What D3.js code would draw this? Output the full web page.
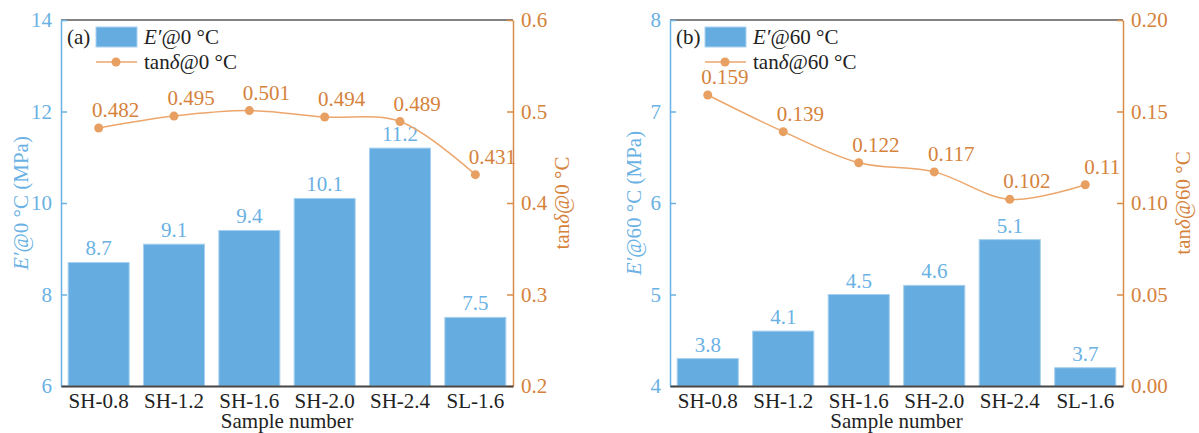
<!DOCTYPE html>
<html>
<head>
    <meta charset="utf-8" />
    <script src="https://d3js.org/d3.v7.min.js"></script>
    <style>
        body { margin: 0; background: #fff; }
        svg text { font-family: "Liberation Serif", Tinos, "Times New Roman", Times, "DejaVu Serif", serif !important; }
    </style>
</head>
<body>
<svg id="chart" width="1199" height="433"></svg>
<script>
    // Data
    const samples = ["SH-0.8", "SH-1.2", "SH-1.6", "SH-2.0", "SH-2.4", "SL-1.6"];

    // panel (a) at 0 °C
    const modulus0 = [8.7, 9.1, 9.4, 10.1, 11.2, 7.5];
    const modulus0Labels = ["8.7", "9.1", "9.4", "10.1", "11.2", "7.5"];
    const tan0 = [0.482, 0.495, 0.501, 0.494, 0.489, 0.431];
    const tan0Labels = ["0.482", "0.495", "0.501", "0.494", "0.489", "0.431"];

    // panel (b) at 60 °C (bars are drawn higher than their printed labels in the original)
    const modulus60 = [4.3, 4.6, 5.0, 5.1, 5.6, 4.2];
    const modulus60Labels = ["3.8", "4.1", "4.5", "4.6", "5.1", "3.7"];
    const tan60 = [0.159, 0.139, 0.122, 0.117, 0.102, 0.110];
    const tan60Labels = ["0.159", "0.139", "0.122", "0.117", "0.102", "0.11"];

    const leftTicks0 = [6, 8, 10, 12, 14];
    const rightTicks0 = [0.2, 0.3, 0.4, 0.5, 0.6];
    const leftTicks60 = [4, 5, 6, 7, 8];
    const rightTicks60 = [0.00, 0.05, 0.10, 0.15, 0.20];

    const blue = "#65ade0";
    const blueText = "#6ab1e4";
    const orangeAxis = "#d98b48";
    const orangeText = "#d5823b";
    const orangeLine = "#eca66b";
    const fontSize = "21px";

    const svg = d3.select("#chart");

    function drawPanel(p) {
        const g = svg.append("g");

        const x = d3.scaleBand()
            .domain(samples)
            .range([p.x0, p.x1])
            .paddingInner(0.19)
            .paddingOuter(0.095);

        const yL = d3.scaleLinear().domain(p.leftDomain).range([p.bottom, p.top]);
        const yR = d3.scaleLinear().domain(p.rightDomain).range([p.bottom, p.top]);

        // bars
        g.selectAll(".bar")
            .data(p.bars)
            .enter().append("rect")
            .attr("x", (d, i) => x(samples[i]))
            .attr("y", d => yL(d))
            .attr("width", x.bandwidth())
            .attr("height", d => yL(p.leftDomain[0]) - yL(d))
            .attr("fill", blue)
            .attr("stroke", "#a9d1ef")
            .attr("stroke-width", 1);

        // bar labels
        g.selectAll(".barLabel")
            .data(p.bars)
            .enter().append("text")
            .attr("x", (d, i) => x(samples[i]) + x.bandwidth() / 2)
            .attr("y", d => yL(d) - 7)
            .attr("text-anchor", "middle")
            .attr("fill", blueText)
            .style("font-size", fontSize)
            .text((d, i) => p.barLabels[i]);

        // top frame line
        g.append("line")
            .attr("x1", p.x0).attr("x2", p.x1)
            .attr("y1", p.top).attr("y2", p.top)
            .attr("stroke", "#5a5a5a").attr("stroke-width", 1.5);

        // left axis
        const axL = g.append("g")
            .attr("transform", `translate(${p.x0},0)`)
            .call(d3.axisLeft(yL).tickValues(p.leftTicks).tickFormat(d3.format("d"))
                .tickSizeInner(-6).tickSizeOuter(0).tickPadding(9));
        axL.select(".domain").attr("stroke", blueText).attr("stroke-width", 1.5);
        axL.selectAll(".tick line").attr("stroke", blueText).attr("stroke-width", 1.5);
        axL.selectAll(".tick text").attr("fill", blueText).style("font-size", fontSize);

        // right axis
        const axR = g.append("g")
            .attr("transform", `translate(${p.x1},0)`)
            .call(d3.axisRight(yR).tickValues(p.rightTicks).tickFormat(d3.format(p.rightFormat))
                .tickSizeInner(-6).tickSizeOuter(0).tickPadding(8));
        axR.select(".domain").attr("stroke", orangeAxis).attr("stroke-width", 1.5);
        axR.selectAll(".tick line").attr("stroke", orangeAxis).attr("stroke-width", 1.5);
        axR.selectAll(".tick text").attr("fill", orangeText).style("font-size", fontSize);

        // bottom axis
        const axB = g.append("g")
            .attr("transform", `translate(0,${p.bottom})`)
            .call(d3.axisBottom(x).tickSize(0).tickPadding(7));
        axB.select(".domain").attr("stroke", "#444").attr("stroke-width", 2);
        axB.selectAll(".tick text").attr("fill", "#222").style("font-size", fontSize);

        // loss factor line
        const line = d3.line()
            .x((d, i) => x(samples[i]) + x.bandwidth() / 2)
            .y(d => yR(d))
            .curve(d3.curveCatmullRom);

        g.append("path")
            .datum(p.tan)
            .attr("fill", "none")
            .attr("stroke", orangeLine)
            .attr("stroke-width", 1.5)
            .attr("d", line);

        g.selectAll(".dot")
            .data(p.tan)
            .enter().append("circle")
            .attr("cx", (d, i) => x(samples[i]) + x.bandwidth() / 2)
            .attr("cy", d => yR(d))
            .attr("r", 4.5)
            .attr("fill", "#e8a062");

        g.selectAll(".tanLabel")
            .data(p.tan)
            .enter().append("text")
            .attr("x", (d, i) => x(samples[i]) + x.bandwidth() / 2 + 17)
            .attr("y", d => yR(d) - 11)
            .attr("text-anchor", "middle")
            .attr("fill", orangeText)
            .style("font-size", fontSize)
            .text((d, i) => p.tanLabels[i]);

        // x axis title
        g.append("text")
            .attr("x", (p.x0 + p.x1) / 2)
            .attr("y", 428)
            .attr("text-anchor", "middle")
            .attr("fill", "#222")
            .style("font-size", fontSize)
            .text("Sample number");

        // left axis title
        const tl = g.append("text")
            .attr("transform", `translate(${p.x0 - p.leftTitleGap},${(p.top + p.bottom) / 2}) rotate(-90)`)
            .attr("text-anchor", "middle")
            .attr("fill", blueText)
            .style("font-size", fontSize);
        tl.append("tspan").style("font-style", "italic").text("E′");
        tl.append("tspan").text(`@${p.temp} °C (MPa)`);

        // right axis title
        const tr = g.append("text")
            .attr("transform", `translate(${p.x1 + p.rightTitleGap},${(p.top + p.bottom) / 2}) rotate(-90)`)
            .attr("text-anchor", "middle")
            .attr("fill", orangeText)
            .style("font-size", fontSize);
        tr.append("tspan").text("tan");
        tr.append("tspan").style("font-style", "italic").text("δ");
        tr.append("tspan").text(`@${p.temp} °C`);

        // legend
        const lx = p.x0 + 35;
        g.append("text")
            .attr("x", p.x0 + 6).attr("y", 44)
            .attr("fill", "#222").style("font-size", fontSize)
            .text(p.tag);
        g.append("rect")
            .attr("x", lx).attr("y", 27)
            .attr("width", 41).attr("height", 20)
            .attr("fill", blue).attr("stroke", "#a9d1ef");
        const l1 = g.append("text")
            .attr("x", lx + 48).attr("y", 44)
            .attr("fill", "#222").style("font-size", fontSize);
        l1.append("tspan").style("font-style", "italic").text("E′");
        l1.append("tspan").text(`@${p.temp} °C`);

        g.append("line")
            .attr("x1", lx).attr("x2", lx + 41)
            .attr("y1", 62).attr("y2", 62)
            .attr("stroke", orangeLine).attr("stroke-width", 1.5);
        g.append("circle")
            .attr("cx", lx + 20).attr("cy", 62).attr("r", 4.5)
            .attr("fill", "#e8a062");
        const l2 = g.append("text")
            .attr("x", lx + 48).attr("y", 69)
            .attr("fill", "#222").style("font-size", fontSize);
        l2.append("tspan").text("tan");
        l2.append("tspan").style("font-style", "italic").text("δ");
        l2.append("tspan").text(`@${p.temp} °C`);
    }

    drawPanel({
        tag: "(a)", temp: "0",
        x0: 61, x1: 513, top: 20, bottom: 386,
        leftTitleGap: 33, rightTitleGap: 56,
        bars: modulus0, barLabels: modulus0Labels,
        tan: tan0, tanLabels: tan0Labels,
        leftDomain: [6, 14], rightDomain: [0.2, 0.6],
        leftTicks: leftTicks0, rightTicks: rightTicks0, rightFormat: ".1f"
    });

    drawPanel({
        tag: "(b)", temp: "60",
        x0: 670, x1: 1123, top: 20, bottom: 386,
        leftTitleGap: 29, rightTitleGap: 67,
        bars: modulus60, barLabels: modulus60Labels,
        tan: tan60, tanLabels: tan60Labels,
        leftDomain: [4, 8], rightDomain: [0, 0.2],
        leftTicks: leftTicks60, rightTicks: rightTicks60, rightFormat: ".2f"
    });
</script>
</body>
</html>
